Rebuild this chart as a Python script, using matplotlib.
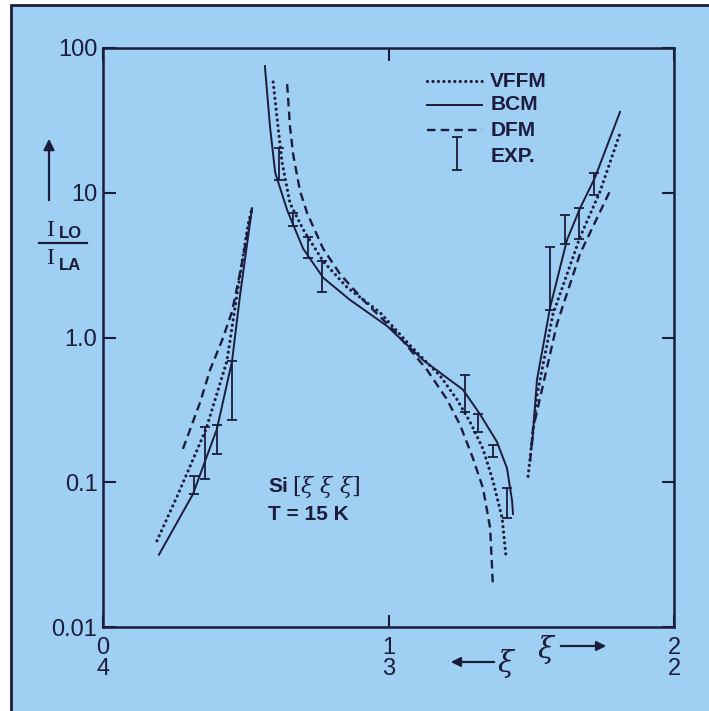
import matplotlib
matplotlib.use("Agg")
import matplotlib.pyplot as plt
from matplotlib.lines import Line2D
from matplotlib.patches import Rectangle

plt.rcParams['mathtext.fontset'] = 'dejavuserif'

# colours
bg = '#9fcff3'
ink = '#1c1c3c'

# --- data (xi on a 0..2 combined axis, ratio I_LO / I_LA) ---
# left branch
bcm_l_x = [0.196, 0.315, 0.357, 0.399, 0.452, 0.480, 0.522]
bcm_l_y = [0.0316, 0.0828, 0.139, 0.233, 0.687, 1.96, 7.82]
vffm_l_x = [0.189, 0.263, 0.361, 0.434, 0.469, 0.508, 0.522]
vffm_l_y = [0.0394, 0.0828, 0.233, 0.687, 1.96, 6.03, 7.82]
dfm_l_x = [0.280, 0.340, 0.375, 0.417, 0.452, 0.480, 0.508, 0.522]
dfm_l_y = [0.170, 0.356, 0.597, 0.955, 1.51, 2.8, 5.5, 7.82]

# central branch
bcm_c_x = [0.567, 0.585, 0.603, 0.645, 0.701, 0.771, 0.865, 0.995,
           1.121, 1.261, 1.321, 1.380, 1.415, 1.433, 1.436]
bcm_c_y = [75, 28.6, 13.8, 7.59, 4.11, 2.59, 1.82, 1.20,
           0.698, 0.436, 0.294, 0.190, 0.125, 0.0741, 0.0604]
vffm_c_x = [0.596, 0.613, 0.627, 0.655, 0.701, 0.771, 0.855, 0.970,
            1.075, 1.181, 1.240, 1.286, 1.331, 1.366, 1.398, 1.412]
vffm_c_y = [58.2, 28.6, 16.3, 8.45, 5.58, 3.36, 2.22, 1.49,
            0.883, 0.543, 0.373, 0.260, 0.170, 0.102, 0.0566, 0.0301]
dfm_c_x = [0.645, 0.655, 0.666, 0.690, 0.715, 0.771, 0.830, 0.911, 1.023,
           1.135, 1.205, 1.251, 1.296, 1.331, 1.356, 1.366]
dfm_c_y = [56.2, 28.6, 18.4, 10.3, 7.24, 4.11, 2.75, 1.82, 1.10,
           0.597, 0.373, 0.248, 0.146, 0.091, 0.0484, 0.0188]

# right branch
bcm_r_x = [1.503, 1.520, 1.566, 1.625, 1.671, 1.723, 1.811]
bcm_r_y = [0.181, 0.509, 1.61, 4.71, 7.82, 12.7, 36.2]
vffm_r_x = [1.489, 1.520, 1.576, 1.671, 1.741, 1.811]
vffm_r_y = [0.110, 0.397, 1.45, 4.94, 10.2, 25.8]
dfm_r_x = [1.496, 1.506, 1.590, 1.671, 1.776]
dfm_r_y = [0.139, 0.233, 1.24, 3.80, 10.3]

# experiment (error bars: x, low, high)
exp_x = [0.319, 0.357, 0.399, 0.452,
         0.617, 0.666, 0.718, 0.767,
         1.268, 1.314, 1.366, 1.415,
         1.566, 1.618, 1.667, 1.720]
exp_lo = [0.0828, 0.105, 0.157, 0.268,
          12.3, 5.93, 3.52, 2.06,
          0.304, 0.222, 0.150, 0.0566,
          1.56, 4.43, 4.79, 9.7]
exp_hi = [0.110, 0.240, 0.248, 0.687,
          20.4, 7.24, 4.94, 3.36,
          0.551, 0.294, 0.181, 0.091,
          4.23, 7.03, 7.82, 13.8]

ytick_vals = [0.01, 0.1, 1, 10, 100]
ytick_labels = ['0.01', '0.1', '1.0', '10', '100']
xtick_vals = [0, 1, 2]
xtick_labels = ['0\n4', '1\n3', '2\n2']

W, H = 709, 711
fig = plt.figure(figsize=(W / 100, H / 100), dpi=100)
fig.patch.set_facecolor('white')
fig.add_artist(Rectangle((11 / W, -0.01), 1.0, (706 / H) + 0.01, transform=fig.transFigure,
                         facecolor=bg, edgecolor=ink, lw=2, zorder=-10))

ax = fig.add_axes([103 / W, (711 - 627) / H, (674 - 103) / W, (627 - 48) / H])
ax.set_facecolor('none')
ax.set_yscale('log')
ax.set_xlim(0, 2)
ax.set_ylim(0.01, 100)

dot = dict(color=ink, lw=2.3, linestyle=(0, (0.01, 1.7)), dash_capstyle='round')
sol = dict(color=ink, lw=1.4, linestyle='-')
dsh = dict(color=ink, lw=1.7, linestyle=(0, (3.6, 2.2)))

for xs, ys in [(vffm_l_x, vffm_l_y), (vffm_c_x, vffm_c_y), (vffm_r_x, vffm_r_y)]:
    ax.plot(xs, ys, **dot)
for xs, ys in [(bcm_l_x, bcm_l_y), (bcm_c_x, bcm_c_y), (bcm_r_x, bcm_r_y)]:
    ax.plot(xs, ys, **sol)
for xs, ys in [(dfm_l_x, dfm_l_y), (dfm_c_x, dfm_c_y), (dfm_r_x, dfm_r_y)]:
    ax.plot(xs, ys, **dsh)

mid = [(lo * hi) ** 0.5 for lo, hi in zip(exp_lo, exp_hi)]
err = [[m - lo for m, lo in zip(mid, exp_lo)], [hi - m for m, hi in zip(mid, exp_hi)]]
ax.errorbar(exp_x, mid, yerr=err, fmt='none', ecolor=ink, elinewidth=1.3,
            capsize=3.5, capthick=1.3)

# axes styling
for s in ax.spines.values():
    s.set_color(ink)
    s.set_linewidth(1.8)
ax.set_yticks(ytick_vals)
ax.set_yticklabels(ytick_labels)
ax.yaxis.set_minor_locator(matplotlib.ticker.NullLocator())
ax.set_xticks(xtick_vals)
ax.set_xticklabels(xtick_labels, linespacing=0.95)
ax.tick_params(direction='in', length=9, width=1.5, color=ink, labelcolor=ink,
               top=True, right=True, labelsize=17, pad=4)
ax.tick_params(axis='x', pad=7)
for lab in ax.get_xticklabels() + ax.get_yticklabels():
    lab.set_family('Liberation Sans')

# legend drawn by hand
tf = ax.transAxes
leg_rows = [(0.943, 'VFFM', dot), (0.902, 'BCM', sol), (0.858, 'DFM', dsh)]
for yy, name, st in leg_rows:
    ax.plot([0.567, 0.664], [yy, yy], transform=tf, **st)
    ax.text(0.678, yy, name, transform=tf, va='center', ha='left',
            fontsize=15, color=ink, family='Liberation Sans', weight='bold')
ax.errorbar([0.620], [0.8175], yerr=[[0.0285], [0.0285]], transform=tf, fmt='none',
            ecolor=ink, elinewidth=1.3, capsize=3.5, capthick=1.3)
ax.text(0.678, 0.812, 'EXP.', transform=tf, va='center', ha='left',
        fontsize=15, color=ink, family='Liberation Sans', weight='bold')


def fp(x, y):
    return x / W, (H - y) / H


# sample label
fig.text(*fp(268, 486), 'Si', va='center', ha='left',
         fontsize=15, color=ink, family='Liberation Sans', weight='bold')
fig.text(*fp(292, 487), r'$[\xi\ \xi\ \xi]$', va='center', ha='left', fontsize=16,
         color=ink)
fig.text(*fp(268, 514), 'T = 15 K', va='center', ha='left', fontsize=15,
         color=ink, family='Liberation Sans', weight='bold')

# y label as a fraction with an arrow
ax.annotate('', xy=(49, H - 136), xytext=(49, H - 203), xycoords='figure pixels',
            arrowprops=dict(arrowstyle='-|>', color=ink, lw=1.6, mutation_scale=16))
fig.add_artist(Line2D([39 / W, 87 / W], [(H - 243) / H] * 2, transform=fig.transFigure,
                      color=ink, lw=1.6))
fig.text(*fp(50, 230), 'I', ha='center', va='center', fontsize=17, color=ink,
         family='Liberation Serif')
fig.text(*fp(59, 234), 'LO', ha='left', va='center', fontsize=12, color=ink,
         family='Liberation Sans', weight='bold')
fig.text(*fp(50, 259), 'I', ha='center', va='center', fontsize=17, color=ink,
         family='Liberation Serif')
fig.text(*fp(59, 265), 'LA', ha='left', va='center', fontsize=12, color=ink,
         family='Liberation Sans', weight='bold')

# xi direction arrows under the axis
ax.annotate('', xy=(448, H - 662), xytext=(497, H - 662), xycoords='figure pixels',
            arrowprops=dict(arrowstyle='-|>', color=ink, lw=1.6, mutation_scale=14))
fig.text(*fp(507, 664), r'$\xi$', ha='center', va='center', fontsize=21, color=ink)
fig.text(*fp(547, 650), r'$\xi$', ha='center', va='center', fontsize=21, color=ink)
ax.annotate('', xy=(609, H - 646), xytext=(558, H - 646), xycoords='figure pixels',
            arrowprops=dict(arrowstyle='-|>', color=ink, lw=1.6, mutation_scale=14))

fig.savefig('out.png', dpi=100, facecolor=fig.get_facecolor())
